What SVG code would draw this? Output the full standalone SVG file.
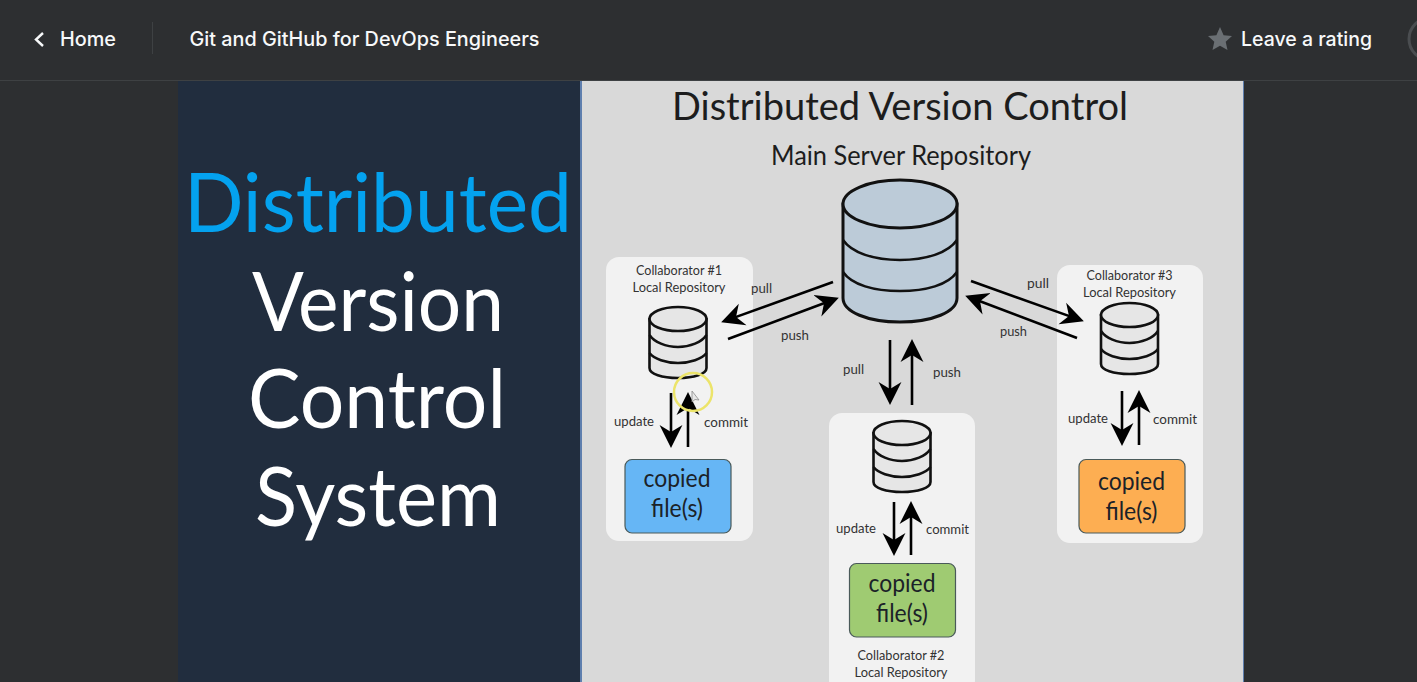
<svg xmlns="http://www.w3.org/2000/svg" width="1417" height="682" viewBox="0 0 1417 682">
<style>
.ui{font-family:Inter,"Liberation Sans",sans-serif;font-size:20px;font-weight:500;fill:#f7f9fa}
.big{font-family:Lato,"Noto Sans",sans-serif;font-size:81px;fill:#fff;text-anchor:middle}
.ttl{font-family:Lato,"Open Sans",sans-serif;fill:#1d1d1d;text-anchor:middle}
.lb{font-family:Lato,"Open Sans",sans-serif;font-size:14px;fill:#333}
.cap{font-family:Lato,"Open Sans",sans-serif;font-size:14px;fill:#333;text-anchor:middle}
.cp{font-family:Lato,"Open Sans",sans-serif;font-size:25px;fill:#1b2228;text-anchor:middle}
.card{fill:#f2f2f2}
.file{stroke:#4a5a5a;stroke-width:1.2}
.cyl{stroke:#111;stroke-width:2.600;fill:#e6e6e6}
.main{fill:#bccbd8;stroke-width:3}
.band{fill:none}
.ar{stroke:#000;stroke-width:2.600;fill:none;marker-end:url(#head)}
</style>
<defs>
<marker id="head" markerUnits="userSpaceOnUse" markerWidth="24" markerHeight="24" refX="11" refY="11" orient="auto" viewBox="0 0 22 22">
<path d="M21,11 L0,0.5 L6.500,11 L0,21.500 Z" fill="#000"/>
</marker>
</defs>
<rect width="1417" height="682" fill="#2d2f31"/>
<rect y="80" width="1417" height="1" fill="#3e4143"/>
<g id="header">
<path d="M43,33 L36,39.500 L43,46" fill="none" stroke="#f7f9fa" stroke-width="2.400"/>
<text class="ui" x="60" y="46" textLength="56" lengthAdjust="spacingAndGlyphs">Home</text>
<rect x="152" y="22" width="1" height="32" fill="#3e4143"/>
<text class="ui" x="189.500" y="46" textLength="350" lengthAdjust="spacingAndGlyphs">Git and GitHub for DevOps Engineers</text>
<path d="M1220,27 L1223.600,35.200 L1232,36 L1225.700,41.800 L1227.500,50 L1220,45.700 L1212.500,50 L1214.300,41.800 L1208,36 L1216.400,35.200 Z" fill="#6a6f73"/>
<text class="ui" x="1241" y="46" textLength="131" lengthAdjust="spacingAndGlyphs">Leave a rating</text>
<circle cx="1430" cy="39" r="21" fill="none" stroke="#4a4d50" stroke-width="3"/>
</g>
<g id="left-panel">
<rect x="178" y="81" width="402" height="601" fill="#212d3e"/>
<text class="big" x="378" y="232" style="fill:#04a2ef" textLength="388" lengthAdjust="spacingAndGlyphs">Distributed</text>
<text class="big" x="378" y="331" textLength="252" lengthAdjust="spacingAndGlyphs">Version</text>
<text class="big" x="377" y="428" textLength="258" lengthAdjust="spacingAndGlyphs">Control</text>
<text class="big" x="378" y="526" textLength="246" lengthAdjust="spacingAndGlyphs">System</text>
</g>
<g id="right-panel">
<rect x="580" y="81" width="664" height="601" fill="#5f7fae"/>
<rect x="582" y="81" width="661" height="601" fill="#d9d9d9"/>
<text class="ttl" x="900" y="120" font-size="39" textLength="456" lengthAdjust="spacingAndGlyphs">Distributed Version Control</text>
<text class="ttl" x="901" y="165" font-size="26" textLength="260" lengthAdjust="spacingAndGlyphs">Main Server Repository</text>
</g>
<g id="main-server">
<path class="cyl main" d="M843,204 V298 C843,312 868,322 900,322 C932,322 957,312 957,298 V204 Z"/>
<ellipse class="cyl main" cx="900" cy="204" rx="57" ry="24"/>
<path class="cyl band" d="M843,240 C852,253 874,260 900,260 C926,260 948,253 957,240"/>
<path class="cyl band" d="M843,272 C852,285 874,291 900,291 C926,291 948,285 957,272"/>
</g>
<g id="collaborator-1">
<rect class="card" x="606" y="257" width="147" height="284" rx="13"/>
<text class="cap" x="679" y="275" textLength="86" lengthAdjust="spacingAndGlyphs">Collaborator #1</text>
<text class="cap" x="679" y="292" textLength="93" lengthAdjust="spacingAndGlyphs">Local Repository</text>
<g transform="translate(678,307)">
<path class="cyl" d="M-28.500,12 V61 C-28.500,67 -16,71 0,71 C16,71 28.500,67 28.500,61 V12 Z"/>
<ellipse class="cyl" cx="0" cy="12" rx="28.500" ry="12"/>
<path class="cyl band" d="M-28.500,28 C-24,35 -12,40 0,40 C12,40 24,35 28.500,28"/>
<path class="cyl band" d="M-28.500,46 C-24,52 -12,56 0,56 C12,56 24,52 28.500,46"/>
</g>
<rect class="file" x="625" y="459.500" width="106" height="73.500" rx="7" fill="#66b6f5"/>
<text class="cp" x="677" y="487" textLength="67" lengthAdjust="spacingAndGlyphs">copied</text>
<text class="cp" x="677" y="517" textLength="52" lengthAdjust="spacingAndGlyphs">file(s)</text>
</g>
<g id="collaborator-2">
<rect class="card" x="829" y="413" width="146" height="280" rx="13"/>
<g transform="translate(902,421)">
<path class="cyl" d="M-28.500,12 V61 C-28.500,67 -16,71 0,71 C16,71 28.500,67 28.500,61 V12 Z"/>
<ellipse class="cyl" cx="0" cy="12" rx="28.500" ry="12"/>
<path class="cyl band" d="M-28.500,28 C-24,35 -12,40 0,40 C12,40 24,35 28.500,28"/>
<path class="cyl band" d="M-28.500,46 C-24,52 -12,56 0,56 C12,56 24,52 28.500,46"/>
</g>
<rect class="file" x="849.500" y="563.500" width="106" height="73.500" rx="7" fill="#9fcb72"/>
<text class="cp" x="902" y="592" textLength="67" lengthAdjust="spacingAndGlyphs">copied</text>
<text class="cp" x="902" y="622" textLength="52" lengthAdjust="spacingAndGlyphs">file(s)</text>
<text class="cap" x="901" y="660" textLength="87" lengthAdjust="spacingAndGlyphs">Collaborator #2</text>
<text class="cap" x="901" y="677" textLength="93" lengthAdjust="spacingAndGlyphs">Local Repository</text>
</g>
<g id="collaborator-3">
<rect class="card" x="1057" y="265" width="146" height="278" rx="13"/>
<text class="cap" x="1129.500" y="280" textLength="86" lengthAdjust="spacingAndGlyphs">Collaborator #3</text>
<text class="cap" x="1129.500" y="297" textLength="93" lengthAdjust="spacingAndGlyphs">Local Repository</text>
<g transform="translate(1129.500,303)">
<path class="cyl" d="M-28.500,12 V61 C-28.500,67 -16,71 0,71 C16,71 28.500,67 28.500,61 V12 Z"/>
<ellipse class="cyl" cx="0" cy="12" rx="28.500" ry="12"/>
<path class="cyl band" d="M-28.500,28 C-24,35 -12,40 0,40 C12,40 24,35 28.500,28"/>
<path class="cyl band" d="M-28.500,46 C-24,52 -12,56 0,56 C12,56 24,52 28.500,46"/>
</g>
<rect class="file" x="1079" y="459.500" width="106" height="73.500" rx="7" fill="#fdae52"/>
<text class="cp" x="1131.500" y="490" textLength="67" lengthAdjust="spacingAndGlyphs">copied</text>
<text class="cp" x="1131.500" y="520" textLength="52" lengthAdjust="spacingAndGlyphs">file(s)</text>
</g>
<g id="connectors">
<line class="ar" x1="833" y1="282" x2="731.400" y2="318.600"/>
<line class="ar" x1="728" y1="339" x2="828.600" y2="301.500"/>
<line class="ar" x1="971" y1="281" x2="1073.600" y2="317.600"/>
<line class="ar" x1="1077" y1="338" x2="975.400" y2="299.500"/>
<line class="ar" x1="890" y1="340" x2="890" y2="394"/>
<line class="ar" x1="912" y1="405" x2="912" y2="350"/>
<line class="ar" x1="671" y1="393" x2="671" y2="437"/>
<line class="ar" x1="688" y1="447" x2="688" y2="403"/>
<line class="ar" x1="894" y1="502" x2="894" y2="545"/>
<line class="ar" x1="911" y1="555" x2="911" y2="512"/>
<line class="ar" x1="1122" y1="391" x2="1122" y2="435"/>
<line class="ar" x1="1139" y1="445" x2="1139" y2="401"/>
</g>
<g id="connector-labels">
<text class="lb" x="751" y="293" textLength="21" lengthAdjust="spacingAndGlyphs">pull</text>
<text class="lb" x="781" y="340" textLength="28" lengthAdjust="spacingAndGlyphs">push</text>
<text class="lb" x="1027" y="288" textLength="22" lengthAdjust="spacingAndGlyphs">pull</text>
<text class="lb" x="1000" y="336" textLength="27" lengthAdjust="spacingAndGlyphs">push</text>
<text class="lb" x="843" y="374" textLength="21" lengthAdjust="spacingAndGlyphs">pull</text>
<text class="lb" x="933" y="377" textLength="28" lengthAdjust="spacingAndGlyphs">push</text>
<text class="lb" x="614" y="426" textLength="40" lengthAdjust="spacingAndGlyphs">update</text>
<text class="lb" x="704" y="427" textLength="44" lengthAdjust="spacingAndGlyphs">commit</text>
<text class="lb" x="836" y="533" textLength="40" lengthAdjust="spacingAndGlyphs">update</text>
<text class="lb" x="926" y="534" textLength="43" lengthAdjust="spacingAndGlyphs">commit</text>
<text class="lb" x="1068" y="423" textLength="40" lengthAdjust="spacingAndGlyphs">update</text>
<text class="lb" x="1153" y="424" textLength="44" lengthAdjust="spacingAndGlyphs">commit</text>
</g>
<g id="cursor">
<circle cx="693" cy="392" r="19" fill="none" stroke="#ece46a" stroke-width="2.500"/>
<path d="M692,391 L692,402 L695,399.500 L699,400 Z" fill="#e6e6e6" stroke="#8a8a8a" stroke-width="0.800"/>
</g>
</svg>
